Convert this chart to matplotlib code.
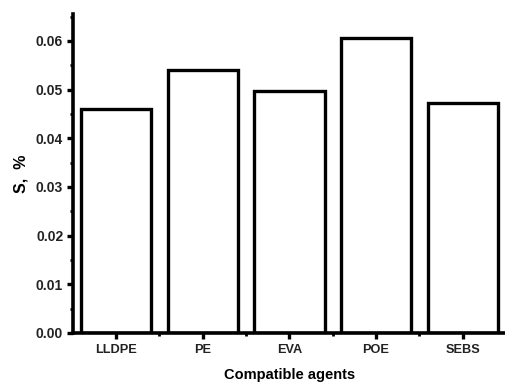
import numpy as np
import matplotlib.pyplot as plt
from matplotlib.ticker import MultipleLocator, FixedLocator

agents = ['LLDPE', 'PE', 'EVA', 'POE', 'SEBS']
s_values = [0.0461, 0.0541, 0.0498, 0.0607, 0.0472]

plt.rcParams['font.family'] = ['Liberation Sans', 'DejaVu Sans']

fig = plt.figure(figsize=(5.06, 3.83), dpi=100)
ax = fig.add_axes([0.144, 0.131, 0.856, 0.832])

x = np.arange(len(agents))
ax.bar(x, s_values, width=0.81, color='white', edgecolor='black', linewidth=2.4)

ax.set_xlim(-0.5, len(agents) - 0.5)
ax.set_ylim(0, 0.0655)
ax.set_xticks(x)
ax.set_xticklabels(agents)
ax.xaxis.set_minor_locator(FixedLocator(x[:-1] + 0.5))
ax.yaxis.set_major_locator(MultipleLocator(0.01))
ax.yaxis.set_minor_locator(MultipleLocator(0.005))
ax.yaxis.set_major_formatter(plt.FormatStrFormatter('%.2f'))

for side in ['top', 'right']:
    ax.spines[side].set_visible(False)
for side in ['left', 'bottom']:
    ax.spines[side].set_linewidth(2.6)

ax.tick_params(which='major', direction='out', length=4, width=2.4, pad=3)
ax.tick_params(axis='y', which='major', labelsize=10)
ax.tick_params(axis='x', which='major', labelsize=9.2, pad=4)
ax.tick_params(which='minor', direction='out', length=2.5, width=2.0)
for lab in ax.get_xticklabels() + ax.get_yticklabels():
    lab.set_fontweight('bold')
    lab.set_color('#222222')

ax.set_xlabel('Compatible agents', fontsize=10.5, fontweight='bold', labelpad=9)
ax.set_ylabel('S,  %', fontsize=11.5, fontweight='bold', labelpad=5)

fig.savefig('out.png', dpi=100)
